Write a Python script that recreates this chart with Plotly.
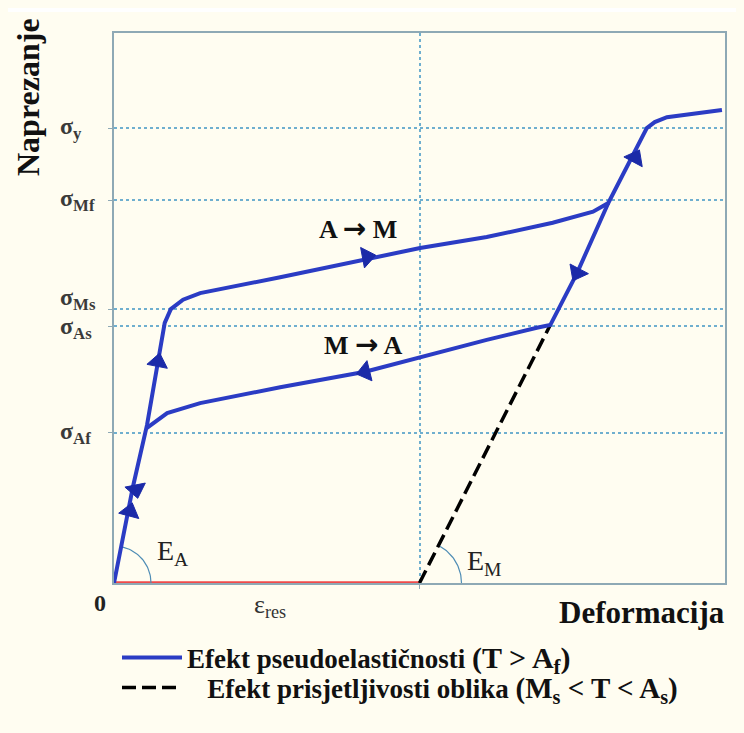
import math
import plotly.graph_objects as go

# ---------------- data (arbitrary units) ----------------
load_strain = [0, 0.31, 0.54, 0.72, 0.83, 0.93, 1.13, 1.41, 2.72, 5.01, 6.10, 7.18, 7.84, 8.09, 8.72, 8.85, 9.05, 9.95]
load_stress = [0, 17.5, 28.7, 40.2, 47.3, 49.8, 51.5, 52.7, 55.6, 60.9, 62.9, 65.5, 67.5, 69.1, 82.7, 83.8, 84.7, 86.0]
unload_strain = [8.09, 7.58, 7.14, 6.92, 6.10, 5.01, 4.11, 2.72, 1.41, 0.87, 0.54]
unload_stress = [69.1, 56.4, 46.9, 46.4, 44.2, 41.1, 38.4, 35.6, 32.7, 30.9, 28.2]
eps_res = 5.0
sme_strain = [eps_res, 7.14]
sme_stress = [0, 46.9]
sigma_names = ["y", "Mf", "Ms", "As", "Af"]
sigma_values = [82.7, 69.6, 49.8, 46.7, 27.3]
sigma_shift = [0, 0, 10, -2, 0]
# arrows: (tail point, head point) along the path direction
arrow_tail_x = [0.20, 0.31, 0.62, 3.90, 4.40, 8.40, 7.75]
arrow_tail_y = [10.5, 19.8, 34.5, 58.8, 39.2, 74.6, 60.0]
arrow_head_x = [0.26, 0.36, 0.72, 4.14, 4.11, 8.53, 7.58]
arrow_head_y = [13.0, 17.0, 40.2, 59.3, 38.4, 77.3, 56.4]

X_RANGE = [0, 10]
Y_RANGE = [0, 100]
# page has an 8px body margin, so the figure is 8px smaller than the window
W, H = 736, 725
ML, MR, MT, MB = 106, 19, 25, 150
PLOT_W = W - ML - MR
PLOT_H = H - MT - MB
PX_X = PLOT_W / (X_RANGE[1] - X_RANGE[0])
PX_Y = PLOT_H / (Y_RANGE[1] - Y_RANGE[0])


def px(page_x):  # page pixel -> paper x
    return (page_x - 8 - ML) / PLOT_W


def py(page_y):  # page pixel -> paper y
    return (MT + PLOT_H + 8 - page_y) / PLOT_H


BLUE = "#2B3CC4"
ARROW_BLUE = "#1B2AA8"
BG = "#FFFDF1"
GRID = "#6FAFCF"
SERIF = "Liberation Serif"
ARW = '<span style="font-family:DejaVu Sans;font-weight:bold;font-size:28px">→</span>'

fig = go.Figure()

# residual strain (red) on the axis
fig.add_trace(go.Scatter(x=[0, eps_res], y=[0, 0], mode="lines",
                         line=dict(color="#F04A4A", width=3.5),
                         showlegend=False, hoverinfo="skip", cliponaxis=False))


def arc(cx, cy, r_px, ang_end):
    xs, ys = [], []
    n = 30
    for i in range(n + 1):
        a = ang_end * i / n
        xs.append(cx + r_px * math.cos(a) / PX_X)
        ys.append(cy + r_px * math.sin(a) / PX_Y)
    return xs, ys


angA = math.atan2(load_stress[1] * PX_Y, load_strain[1] * PX_X)
angM = math.atan2((sme_stress[1] - sme_stress[0]) * PX_Y, (sme_strain[1] - sme_strain[0]) * PX_X)
for (cx, cy, r, a) in [(0, 0, 37, angA), (eps_res, 0, 42, angM)]:
    ax_, ay_ = arc(cx, cy, r, a)
    fig.add_trace(go.Scatter(x=ax_, y=ay_, mode="lines", line=dict(color="#4F8DB5", width=1.2),
                             showlegend=False, hoverinfo="skip", cliponaxis=False))

# shape memory (dashed)
fig.add_trace(go.Scatter(x=sme_strain, y=sme_stress, mode="lines",
                         line=dict(color="black", width=3.5, dash="14px,6px"),
                         name='\u00a0\u00a0\u00a0Efekt prisjetljivosti oblika <span style="font-size:29px">(M<sub>s</sub> &lt; T &lt; A<sub>s</sub>)</span>',
                         legend="legend2"))

# pseudoelastic loop
fig.add_trace(go.Scatter(x=unload_strain, y=unload_stress, mode="lines",
                         line=dict(color=BLUE, width=4), showlegend=False,
                         legendgroup="pe", hoverinfo="skip"))
fig.add_trace(go.Scatter(x=load_strain, y=load_stress, mode="lines",
                         line=dict(color=BLUE, width=4), legendgroup="pe",
                         name='Efekt pseudoelastičnosti <span style="font-size:30px">(T &gt; A<sub>f</sub>)</span>',
                         legend="legend"))

for tx, ty, hx, hy in zip(arrow_tail_x, arrow_tail_y, arrow_head_x, arrow_head_y):
    fig.add_trace(go.Scatter(x=[tx, hx], y=[ty, hy], mode="markers",
                             marker=dict(symbol="triangle-up", size=[0, 18], color=ARROW_BLUE,
                                         opacity=1, angleref="previous",
                                         line=dict(width=1, color=ARROW_BLUE)),
                             showlegend=False, hoverinfo="skip"))

ann = []
for name, val, sh in zip(sigma_names, sigma_values, sigma_shift):
    ann.append(dict(x=px(58), xref="paper", y=val, yref="y",
                    text="<b>σ<sub>%s</sub></b>" % name, showarrow=False, xanchor="left",
                    yanchor="middle", yshift=sh,
                    font=dict(family=SERIF, size=24, color="#3A3A3A")))

ann += [
    dict(x=3.99, y=64.5, text="<b>A " + ARW + " M</b>", showarrow=False,
         font=dict(family=SERIF, size=26, color="#111")),
    dict(x=4.09, y=43.3, text="<b>M " + ARW + " A</b>", showarrow=False,
         font=dict(family=SERIF, size=26, color="#111")),
    dict(x=0.95, y=5.5, text="E<sub>A</sub>", showarrow=False, font=dict(family=SERIF, size=28, color="#222")),
    dict(x=6.07, y=3.8, text="E<sub>M</sub>", showarrow=False, font=dict(family=SERIF, size=28, color="#222")),
]
paper_texts = [
    (270, 606, "ε<sub>res</sub>", 26, 0, "#333"),
    (100, 603, "<b>0</b>", 24, 0, "#222"),
    (642, 612, "<b>Deformacija</b>", 31, 0, "#111"),
    (28, 97, "<b>Naprezanje</b>", 32, -90, "#111"),
]
for xp, yp, t, s, ang, col in paper_texts:
    ann.append(dict(x=px(xp), y=py(yp), xref="paper", yref="paper", text=t, textangle=ang,
                    xanchor="center", yanchor="middle", showarrow=False,
                    font=dict(family=SERIF, size=s, color=col)))

axis_common = dict(showline=True, linecolor="#8EA9B5", linewidth=2, mirror=True,
                   showgrid=True, gridcolor=GRID, gridwidth=1.5, griddash="dot",
                   zeroline=False, showticklabels=False, ticks="outside", ticklen=4,
                   tickcolor="#8EA9B5", fixedrange=True)

legend_common = dict(xanchor="left", yanchor="middle", bgcolor="rgba(0,0,0,0)",
                     itemwidth=60, tracegroupgap=0,
                     font=dict(family=SERIF, size=27, color="#111", weight="bold"))

fig.update_layout(
    width=W, height=H,
    margin=dict(l=ML, r=MR, t=MT, b=MB),
    paper_bgcolor=BG, plot_bgcolor=BG,
    xaxis=dict(range=X_RANGE, tickvals=[eps_res], **axis_common),
    yaxis=dict(range=Y_RANGE, tickvals=sigma_values, **axis_common),
    annotations=ann,
    showlegend=True,
    legend=dict(x=px(117), y=py(658), **legend_common),
    legend2=dict(x=px(117), y=py(688), **legend_common),
    shapes=[dict(type="rect", xref="paper", yref="paper", x0=-0.3, x1=1.1,
                 y0=py(12), y1=1.2, fillcolor="white", line=dict(width=0),
                 layer="below")],
)

fig.write_html("out.html",
               post_script="document.body.style.background='%s';" % BG)
